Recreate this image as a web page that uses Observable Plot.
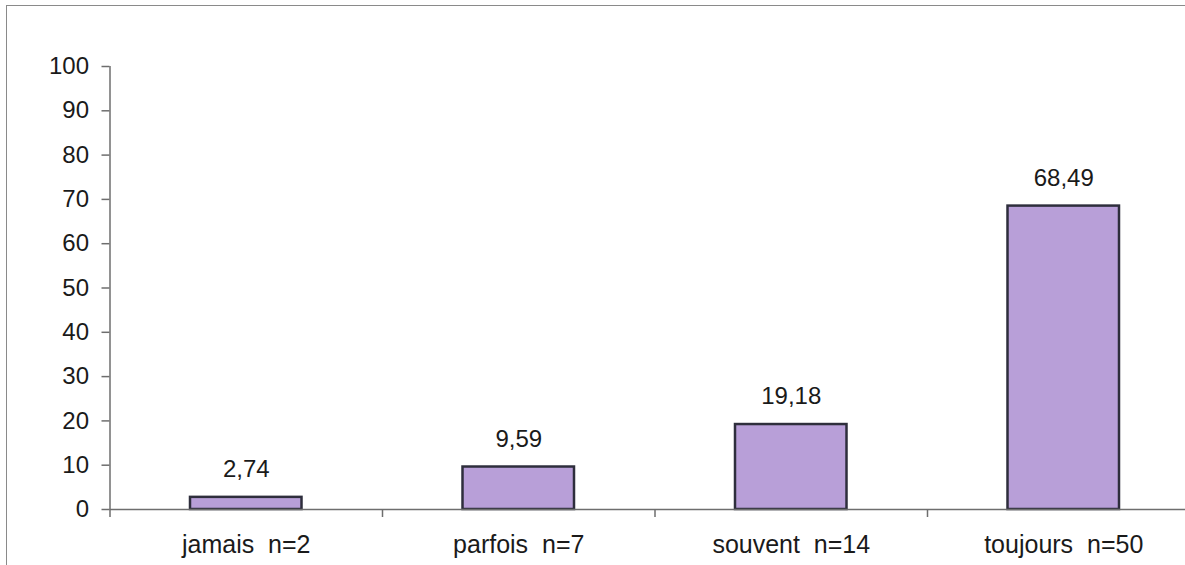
<!DOCTYPE html>
<html>
<head>
<meta charset="utf-8">
<script src="https://cdn.jsdelivr.net/npm/d3@7"></script>
<script src="https://cdn.jsdelivr.net/npm/@observablehq/plot@0.6"></script>
<style>
  html, body { margin: 0; padding: 0; background: #fff; }
  #chart { position: relative; width: 1185px; height: 565px; overflow: hidden; }
  #chart .border {
    position: absolute; left: 6px; top: 5px; right: -10px; bottom: -10px;
    border-left: 1.5px solid #8a8a8a; border-top: 1.5px solid #8a8a8a;
  }
  #chart svg { position: absolute; left: 0; top: 0; white-space: pre; }
</style>
</head>
<body>
<div id="chart"><div class="border"></div></div>
<script>
// Réponses : fréquence (en %) et effectifs
const categories = ["jamais", "parfois", "souvent", "toujours"];
const counts = [2, 7, 14, 50];
const percents = [2.74, 9.59, 19.18, 68.49];
const yTicks = [0, 10, 20, 30, 40, 50, 60, 70, 80, 90, 100];

const rows = categories.map((c, i) => ({
  slot: i,
  label: `${c}  n=${counts[i]}`,
  value: percents[i]
}));

const fmt = v => v.toFixed(2).replace(".", ",");
const ink = "#1a1a1a";
const axisGray = "#6e6e6e";

const chart = Plot.plot({
  width: 1185,
  height: 565,
  marginTop: 66,
  marginBottom: 56,
  marginLeft: 109.5,
  marginRight: 0,
  style: { fontFamily: "Liberation Sans, Arial, sans-serif", fontSize: "24px", color: ink, background: "transparent", overflow: "hidden" },
  x: { type: "linear", domain: [0, categories.length], range: [109.5, 109.5 + 272.5 * categories.length] },
  y: { domain: [0, 100] },
  marks: [
    // bars, one per category slot, inset inside the slot
    Plot.rectY(rows, {
      x1: d => d.slot, x2: d => d.slot + 1, y: "value",
      insetLeft: 80.5, insetRight: 80.5,
      fill: "#b89fd8", stroke: "#2e2e3c", strokeWidth: 2.5
    }),
    // axis lines
    Plot.ruleY([0], { x1: 0, x2: categories.length, stroke: axisGray, strokeWidth: 1.5 }),
    Plot.ruleX([0], { y1: 0, y2: 100, stroke: axisGray, strokeWidth: 1.5 }),
    // y axis
    Plot.axisY({ ticks: yTicks, tickSize: 8, tickPadding: 13, stroke: axisGray, strokeWidth: 1.5, fill: ink, strokeOpacity: 1, label: null }),
    // category boundary ticks on the x axis
    Plot.axisX({ ticks: d3.range(0, categories.length + 1), tickSize: 8, tickFormat: () => "", stroke: axisGray, strokeWidth: 1.5, strokeOpacity: 1, label: null }),
    // category labels centred in each slot
    Plot.axisX({ ticks: rows.map(d => d.slot + 0.5), tickSize: 0, tickPadding: 26, tickFormat: t => rows[Math.floor(t)].label, fill: ink, fontSize: 25, label: null }),
    // value labels above bars
    Plot.text(rows, {
      x: d => d.slot + 0.5, y: "value", text: d => fmt(d.value),
      dy: -28, fontSize: 24, fill: ink
    })
  ]
});

document.getElementById("chart").appendChild(chart);
</script>
</body>
</html>
